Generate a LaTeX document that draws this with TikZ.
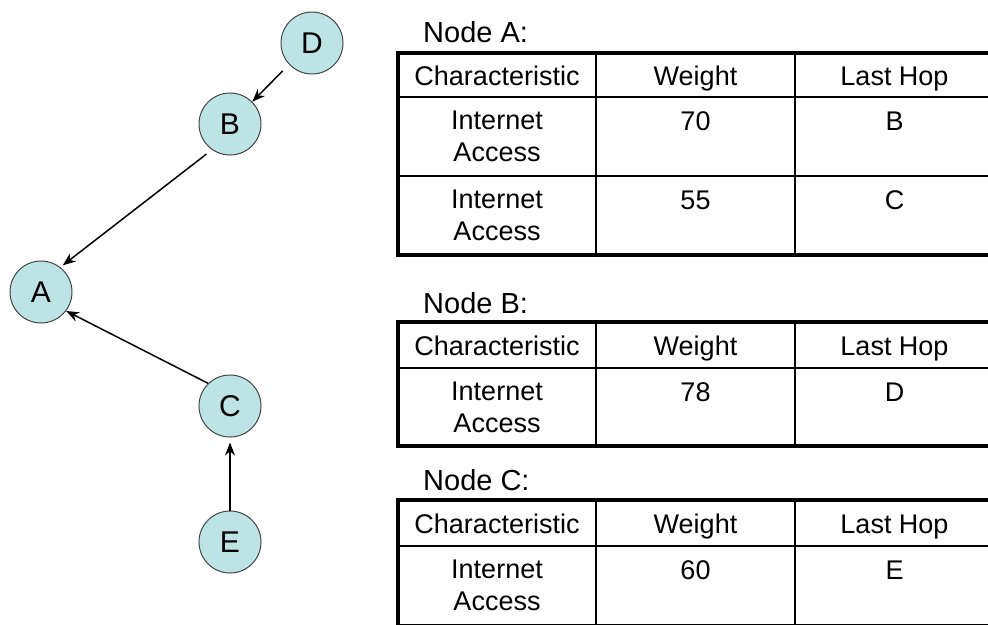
\documentclass[tikz,border=0pt]{standalone}
\usepackage{fontspec}
\setmainfont{Liberation Sans}
\usetikzlibrary{arrows.meta}
\definecolor{nodefill}{RGB}{189,227,228}
\definecolor{nodeline}{RGB}{70,70,70}

\begin{document}
\begin{tikzpicture}[x=1pt,y=-1pt,
  peer/.style={circle, draw=nodeline, line width=1pt, fill=nodefill,
    minimum size=62pt, inner sep=0pt, font=\fontsize{30}{30}\selectfont},
  link/.style={-{Stealth[length=13pt,width=10pt]}, line width=1.5pt},
  outerrule/.style={line width=4pt, line join=miter},
  innerrule/.style={line width=2pt},
  tabletitle/.style={anchor=base west, inner sep=0pt, font=\fontsize{29}{30}\selectfont},
  cell/.style={inner sep=0pt, align=center, font=\fontsize{27}{32}\selectfont},
  headcell/.style={cell, anchor=base},
  valcell/.style={cell, anchor=base},
  twoline/.style={cell, anchor=north}
]
\useasboundingbox (0,0) rectangle (988,624);

% ---- routing tree ----
\node[peer] (D) at (312,43) {D};
\node[peer] (B) at (230,124) {B};
\node[peer] (A) at (41,292) {A};
\node[peer] (C) at (230,406) {C};
\node[peer] (E) at (230,542) {E};

\draw[link, shorten <=9pt] (D.223) -- (B.45);
\draw[link, shorten <=7pt, shorten >=3pt] (B.235) -- (A.52);
\draw[link] (C.134) -- (A.323);
\draw[link, shorten >=5pt] (E.north) -- (C.south);

% ---- table for node A ----
\node[tabletitle] (tA) at (423,42) {Node A:};
\draw[innerrule] (398,97) -- (994,97);
\draw[innerrule] (398,176) -- (994,176);
\draw[innerrule] (596,53) -- (596,255);
\draw[innerrule] (795,53) -- (795,255);
\draw[outerrule] (994,53) -- (398,53) -- (398,255) -- (994,255);
\node[headcell] (hA1) at (497,85) {Characteristic};
\node[headcell] (hA2) at (695.5,85) {Weight};
\node[headcell] (hA3) at (894.5,85) {Last Hop};
\node[twoline] (a11) at (497,111) {Internet\\Access};
\node[valcell] (a12) at (695.5,130) {70};
\node[valcell] (a13) at (894.5,130) {B};
\node[twoline] (a21) at (497,190) {Internet\\Access};
\node[valcell] (a22) at (695.5,209) {55};
\node[valcell] (a23) at (894.5,209) {C};

% ---- table for node B ----
\node[tabletitle] (tB) at (423,313) {Node B:};
\draw[innerrule] (398,368) -- (994,368);
\draw[innerrule] (596,322) -- (596,446);
\draw[innerrule] (795,322) -- (795,446);
\draw[outerrule] (994,322) -- (398,322) -- (398,446) -- (994,446);
\node[headcell] (hB1) at (497,355) {Characteristic};
\node[headcell] (hB2) at (695.5,355) {Weight};
\node[headcell] (hB3) at (894.5,355) {Last Hop};
\node[twoline] (b11) at (497,382) {Internet\\Access};
\node[valcell] (b12) at (695.5,401) {78};
\node[valcell] (b13) at (894.5,401) {D};

% ---- table for node C ----
\node[tabletitle] (tC) at (423,490) {Node C:};
\draw[innerrule] (398,546) -- (994,546);
\draw[innerrule] (596,500) -- (596,626);
\draw[innerrule] (795,500) -- (795,626);
\draw[outerrule] (994,500) -- (398,500) -- (398,626) -- (994,626);
\node[headcell] (hC1) at (497,533) {Characteristic};
\node[headcell] (hC2) at (695.5,533) {Weight};
\node[headcell] (hC3) at (894.5,533) {Last Hop};
\node[twoline] (c11) at (497,560) {Internet\\Access};
\node[valcell] (c12) at (695.5,579) {60};
\node[valcell] (c13) at (894.5,579) {E};
\end{tikzpicture}
\end{document}
